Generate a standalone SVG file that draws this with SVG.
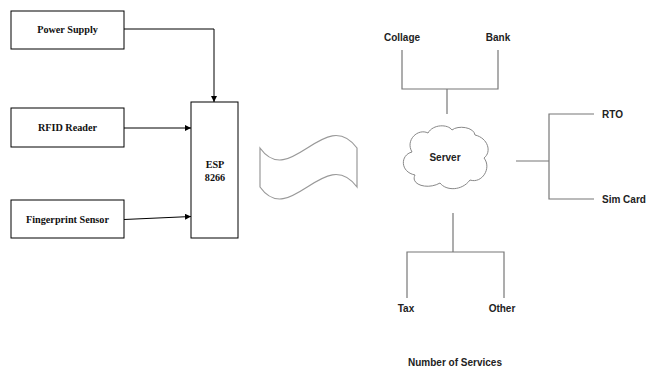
<svg xmlns="http://www.w3.org/2000/svg" width="646" height="369" viewBox="0 0 646 369">
<defs>
<marker id="arr" viewBox="0 0 10 10" refX="10" refY="5" markerWidth="6" markerHeight="6" orient="auto" markerUnits="userSpaceOnUse">
<path d="M0,0 L10,5 L0,10 Z" fill="#000"/>
</marker>
</defs>
<style>
.box{fill:#fff;stroke:#000;stroke-width:1}
.lt{font-family:"Liberation Serif","Times New Roman",serif;font-weight:bold;font-size:10.2px;fill:#111;text-anchor:middle}
.rt{font-family:"Liberation Sans",Arial,sans-serif;font-weight:bold;font-size:10px;fill:#222}
.mid{text-anchor:middle}
.bl{fill:none;stroke:#000;stroke-width:1}
.gl{fill:none;stroke:#777;stroke-width:1.2}
</style>
<rect width="646" height="369" fill="#fff"/>
<g id="power-supply"><rect class="box" x="11" y="11" width="113" height="38"/><text class="lt" x="67.5" y="33">Power Supply</text></g>
<g id="rfid-reader"><rect class="box" x="11" y="108" width="113" height="39"/><text class="lt" x="67.5" y="131">RFID Reader</text></g>
<g id="fingerprint-sensor"><rect class="box" x="11" y="200" width="113" height="38"/><text class="lt" x="67.5" y="223">Fingerprint Sensor</text></g>
<g id="esp8266"><rect class="box" x="191" y="102" width="47" height="136"/><text class="lt" x="215" y="168">ESP</text><text class="lt" x="215" y="181">8266</text></g>
<g id="wave"><path d="M260,148 C290,190 325,105 357,148 L357,187 C325,144 290,229 260,187 Z" fill="#fff" stroke="#999" stroke-width="1.2"/></g>
<g id="server"><path d="M412,152 C405,140 418,128 428,133 C433,124 448,124 452,130 C458,125 474,127 475,135 C488,138 492,152 484,158 C492,168 482,184 470,180 C462,191 446,191 440,183 C428,190 410,185 415,175 C400,172 400,155 412,152 Z" fill="#fff" stroke="#888" stroke-width="1"/><text class="rt mid" x="445" y="161">Server</text></g>
<g id="collage"><text class="rt mid" x="402" y="41">Collage</text></g>
<g id="bank"><text class="rt mid" x="498" y="41">Bank</text></g>
<g id="rto"><text class="rt" x="602" y="118">RTO</text></g>
<g id="sim-card"><text class="rt" x="602" y="203">Sim Card</text></g>
<g id="tax"><text class="rt mid" x="406" y="312">Tax</text></g>
<g id="other"><text class="rt mid" x="502" y="312">Other</text></g>
<g id="caption"><text class="rt mid" x="455" y="366">Number of Services</text></g>
<g id="connectors">
<path class="bl" d="M124,29 H214 V102" marker-end="url(#arr)"/>
<path class="bl" d="M124,128 H191" marker-end="url(#arr)"/>
<path class="bl" d="M124,219.5 L191,216.5" marker-end="url(#arr)"/>
<path class="gl" d="M402,50 V89 H498 V50 M447,89 V114"/>
<path class="gl" d="M516,161 H549 M594,114 H549 V199 H594"/>
<path class="gl" d="M453,213 V252 M407,298 V252 H504 V298"/>
</g>
</svg>
